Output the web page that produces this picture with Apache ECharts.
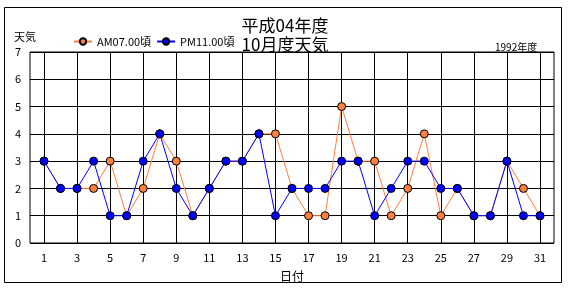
<!DOCTYPE html>
<html><head><meta charset="utf-8">
<script src="https://cdn.jsdelivr.net/npm/echarts@6/dist/echarts.min.js"></script>
<style>html,body{margin:0;padding:0;background:#fff}#c{width:570px;height:290px}</style>
</head><body><div id="c"></div>
<script>
const days = Array.from({length:31},(_,i)=>String(i+1));
const amValues = [3,2,2,2,3,1,2,4,3,1,2,3,3,4,4,2,1,1,5,3,3,1,2,4,1,2,1,1,3,2,1];
const pmValues = [3,2,2,3,1,1,3,4,2,1,2,3,3,4,1,2,2,2,3,3,1,2,3,3,2,2,1,1,3,1,1];
const seriesNames = ['AM07.00頃','PM11.00頃'];
const yTicks = [0,7,1];
const font = '"Noto Sans CJK JP", sans-serif';

const chart = echarts.init(document.getElementById('c'), null, {renderer:'canvas'});
chart.setOption({
  animation:false,
  backgroundColor:'#fff',
  textStyle:{fontFamily:font,color:'#000'},
  title:[
    {text:'平成04年度\n10月度天気', left:'center', top:11, textStyle:{fontFamily:font,fontSize:17,fontWeight:'normal',color:'#000',lineHeight:19}},
    {text:'1992年度', left:490, top:37, textStyle:{fontFamily:font,fontSize:10,fontWeight:'normal',color:'#000'}}
  ],
  graphic:[{type:'rect', shape:{x:4.5,y:7.5,width:557,height:275}, style:{fill:null,stroke:'#000',lineWidth:1}, z:-1}],
  legend:{left:68, top:31, itemGap:5, itemWidth:18, itemHeight:8, textStyle:{fontFamily:font,fontSize:11,color:'#000'}, data:seriesNames},
  grid:[
    {left:30, right:16, top:52, bottom:47, show:true, borderColor:'#000', borderWidth:1, backgroundColor:'#fff'},
    {left:44, right:30, top:52, bottom:47}
  ],
  xAxis:[
    {gridIndex:0, type:'value', show:false, min:0, max:1},
    {gridIndex:1, type:'category', data:days, boundaryGap:false,
     axisLine:{show:false}, axisTick:{show:false},
     splitLine:{show:true, lineStyle:{color:'#000', width:1}},
     axisLabel:{interval:1, margin:9, fontSize:11, color:'#000', fontFamily:font},
     name:'日付', nameLocation:'middle', nameGap:27, nameTextStyle:{fontSize:12,color:'#000',fontFamily:font}}
  ],
  yAxis:[
    {gridIndex:0, type:'value', min:yTicks[0], max:yTicks[1], interval:yTicks[2],
     axisLine:{show:false}, axisTick:{show:false},
     splitLine:{show:true, lineStyle:{color:'#000', width:1}},
     axisLabel:{margin:9, fontSize:11, color:'#000', fontFamily:font},
     name:'天気', nameLocation:'end', nameGap:10, nameTextStyle:{fontSize:11,color:'#000',fontFamily:font,align:'right',padding:[0,-6,0,0]}},
    {gridIndex:1, type:'value', min:yTicks[0], max:yTicks[1], interval:yTicks[2], show:false}
  ],
  series:[
    {name:seriesNames[0], type:'line', xAxisIndex:1, yAxisIndex:1, data:amValues,
     symbol:'circle', symbolSize:8, lineStyle:{color:'#FF7F3F', width:1},
     itemStyle:{color:'#FF7F3F', borderColor:'#000', borderWidth:1}, z:3},
    {name:seriesNames[1], type:'line', xAxisIndex:1, yAxisIndex:1, data:pmValues,
     symbol:'circle', symbolSize:8, lineStyle:{color:'#0000FF', width:1},
     itemStyle:{color:'#0000FF', borderColor:'#000', borderWidth:1}, z:4}
  ]
});
</script></body></html>
